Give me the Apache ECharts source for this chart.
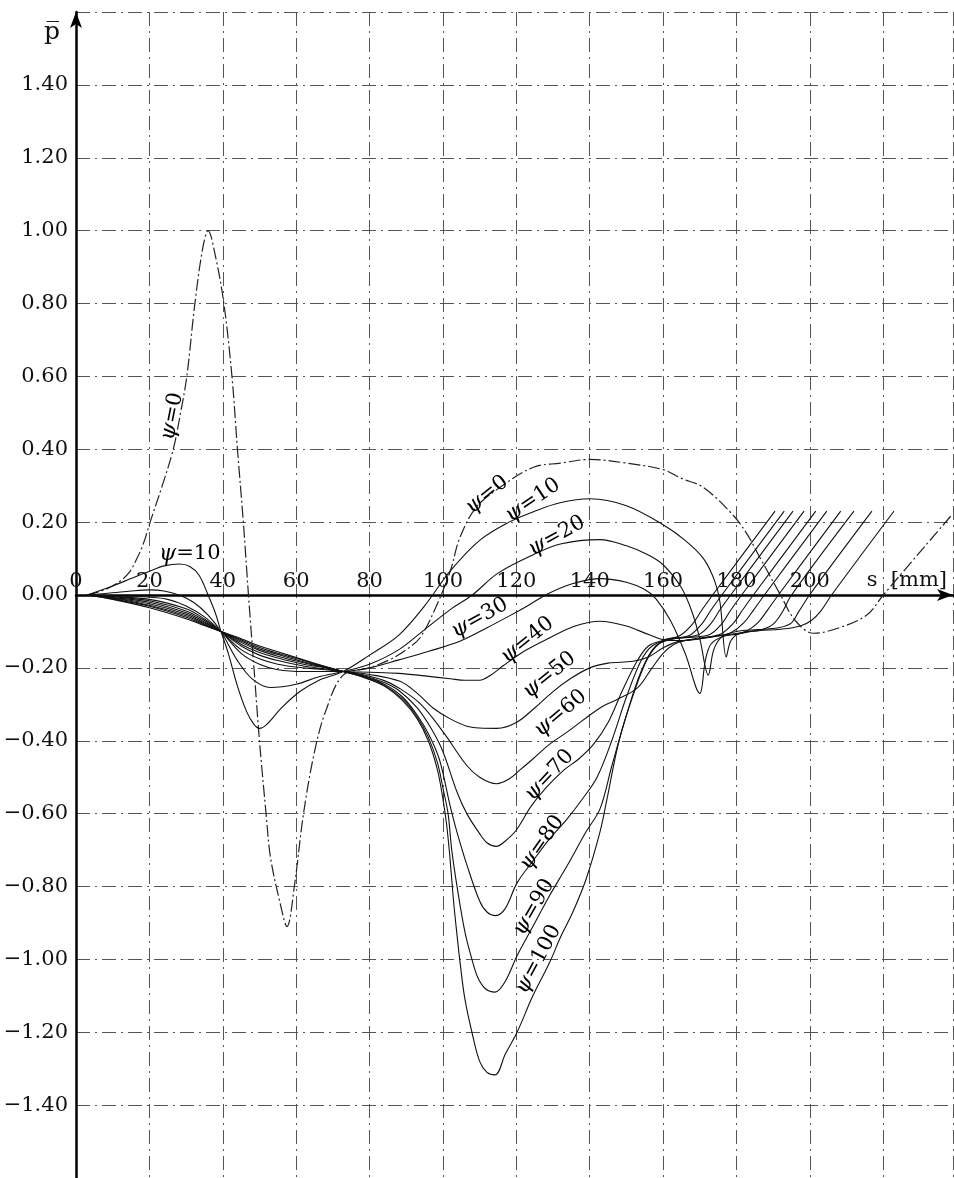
<!DOCTYPE html>
<html>
<head>
<meta charset="utf-8">
<script src="https://cdn.jsdelivr.net/npm/echarts@6/dist/echarts.min.js"></script>
<style>
html,body{margin:0;padding:0;background:#fff;}
#chart{width:954px;height:1178px;}
</style>
</head>
<body>
<div id="chart"></div>
<script>
// ---- data: s [mm], p-bar ----
var psi0 = [[3,0],[8,0.015],[12,0.038],[14.5,0.062],[16.6,0.1],[18.5,0.145],[20.2,0.2],[23.5,0.3],[26.5,0.4],[28.5,0.5],[30.2,0.6],[32.4,0.8],[34.5,0.95],[36,1.0],[38,0.93],[40.3,0.8],[42.5,0.6],[44,0.4],[45.6,0.2],[47,0.0],[48.5,-0.2],[50,-0.4],[51.8,-0.6],[53,-0.72],[55.5,-0.84],[57.5,-0.91],[59.5,-0.8],[62,-0.6],[65,-0.43],[68,-0.32],[72.8,-0.22],[80,-0.2],[86,-0.175],[90,-0.15],[93.7,-0.118],[98,-0.035],[102,0.066],[104.6,0.157],[109,0.24],[115.5,0.295],[124.5,0.35],[132,0.362],[140,0.372],[150,0.362],[160,0.344],[165,0.32],[171,0.295],[179,0.22],[183,0.165],[186,0.11],[192,0.0],[196,-0.07],[201,-0.105],[208,-0.09],[215.5,-0.055],[220,0],[238.7,0.22]];
var psi10 = [[3,0],[10,0.025],[15,0.045],[20,0.065],[24,0.08],[28.3,0.085],[31,0.078],[33.5,0.055],[36,0.0],[38,-0.05],[39.5,-0.1],[41.5,-0.16],[44,-0.25],[46.5,-0.32],[48.5,-0.355],[50,-0.366],[52,-0.355],[56,-0.31],[61,-0.265],[66,-0.235],[72.8,-0.21],[80,-0.165],[88,-0.11],[95,-0.03],[102,0.066],[110,0.15],[118,0.2],[124.5,0.228],[131.9,0.253],[140,0.264],[150,0.245],[160,0.193],[166,0.15],[171,0.1],[174,0.04],[175.5,-0.02],[177.2,-0.17],[178.5,-0.125],[181,-0.105],[186,-0.098],[192,-0.094],[197.4,-0.085],[200.4,-0.07],[202.9,-0.045],[205.9,0],[222.9,0.23]];
var psi20 = [[3,0],[10,0.006],[15,0.011],[20,0.014],[24,0.011],[28,0.0],[32,-0.02],[36,-0.055],[39.5,-0.1],[44,-0.18],[48,-0.23],[53,-0.254],[60,-0.245],[66,-0.225],[72.8,-0.21],[80,-0.19],[88,-0.15],[95,-0.095],[102,-0.04],[108,0],[115,0.06],[124.5,0.11],[132,0.14],[142.8,0.152],[150,0.135],[156,0.11],[160,0.083],[165,0.02],[168,-0.05],[170,-0.12],[172.3,-0.22],[173.8,-0.15],[176,-0.115],[180,-0.1],[186,-0.095],[191.4,-0.09],[194.9,-0.077],[197,-0.045],[199.9,0],[216.9,0.23]];
var psi30 = [[3,0],[10,-0.002],[20,-0.006],[25,-0.012],[30,-0.03],[35,-0.06],[39.5,-0.1],[45,-0.16],[50,-0.19],[55,-0.205],[62,-0.21],[68,-0.21],[72.8,-0.21],[80,-0.2],[88,-0.178],[96,-0.155],[104.6,-0.127],[112,-0.09],[118,-0.058],[123,-0.03],[128,0],[135,0.03],[143,0.045],[150,0.035],[155,0.015],[158,-0.01],[162,-0.07],[166,-0.16],[170,-0.27],[171.5,-0.18],[173,-0.135],[176,-0.115],[180,-0.108],[184,-0.1],[187,-0.095],[190,-0.08],[192.3,-0.05],[195,0],[212,0.23]];
var psi40 = [[3,0],[10,-0.004],[20,-0.012],[30,-0.038],[35,-0.066],[39.5,-0.1],[45,-0.15],[50,-0.175],[55,-0.19],[62,-0.2],[68,-0.205],[72.8,-0.21],[80,-0.212],[88,-0.215],[95,-0.222],[102,-0.23],[106,-0.234],[110,-0.234],[113,-0.22],[116.3,-0.195],[122,-0.155],[129,-0.118],[136,-0.085],[142.8,-0.072],[150,-0.085],[156.4,-0.11],[161,-0.124],[166,-0.125],[172,-0.117],[178,-0.108],[182.4,-0.1],[185.9,-0.075],[188.4,-0.042],[191.4,0],[208.4,0.23]];
var psi50 = [[3,0],[10,-0.005],[20,-0.016],[30,-0.044],[35,-0.07],[39.5,-0.1],[45,-0.14],[50,-0.165],[55,-0.18],[62,-0.195],[68,-0.203],[72.8,-0.21],[80,-0.218],[88.3,-0.237],[93,-0.27],[97.3,-0.31],[102,-0.34],[106.5,-0.36],[110,-0.365],[114.7,-0.366],[120,-0.35],[125,-0.31],[130,-0.265],[135,-0.228],[140,-0.2],[145,-0.187],[151.8,-0.182],[156,-0.17],[160,-0.145],[164,-0.128],[170,-0.12],[176,-0.11],[178.6,-0.103],[182.1,-0.075],[184.6,-0.042],[187.6,0],[204.6,0.23]];
var psi60 = [[3,0],[10,-0.007],[20,-0.02],[30,-0.049],[35,-0.074],[39.5,-0.1],[45,-0.135],[50,-0.158],[55,-0.173],[62,-0.19],[68,-0.2],[72.8,-0.21],[78,-0.218],[84,-0.235],[88,-0.255],[94,-0.3],[100,-0.375],[106.5,-0.468],[110,-0.5],[114.6,-0.518],[118,-0.505],[121,-0.48],[124.5,-0.45],[129,-0.41],[134,-0.375],[142.8,-0.31],[148,-0.284],[153,-0.255],[157,-0.2],[160,-0.16],[163,-0.135],[166,-0.125],[170,-0.118],[175.6,-0.108],[179.1,-0.078],[181.6,-0.042],[184.6,0],[201.6,0.23]];
var psi70 = [[3,0],[10,-0.008],[20,-0.024],[30,-0.053],[35,-0.077],[39.5,-0.1],[45,-0.13],[50,-0.152],[55,-0.168],[62,-0.186],[68,-0.199],[72.8,-0.21],[78,-0.22],[84,-0.24],[88,-0.262],[93,-0.31],[97,-0.37],[100,-0.43],[103.8,-0.54],[106.5,-0.6],[110,-0.655],[112,-0.68],[114.5,-0.69],[117,-0.675],[120,-0.645],[124,-0.58],[128,-0.53],[133,-0.48],[137,-0.45],[141,-0.41],[145,-0.35],[149,-0.26],[153,-0.18],[156,-0.14],[160,-0.125],[166,-0.117],[172.4,-0.11],[175.9,-0.08],[178.4,-0.042],[181.4,0],[198.4,0.23]];
var psi80 = [[3,0],[10,-0.009],[20,-0.028],[30,-0.057],[35,-0.08],[39.5,-0.1],[45,-0.126],[50,-0.148],[55,-0.163],[62,-0.183],[68,-0.198],[72.8,-0.21],[78,-0.222],[84,-0.245],[89,-0.28],[93,-0.33],[96,-0.38],[99,-0.45],[102,-0.58],[103.8,-0.65],[106.5,-0.74],[110,-0.84],[112,-0.87],[114.4,-0.88],[117,-0.86],[120.2,-0.79],[124.5,-0.73],[129,-0.67],[133.8,-0.615],[138,-0.56],[142,-0.5],[146,-0.4],[150,-0.28],[154,-0.18],[157,-0.14],[162,-0.12],[169.4,-0.11],[172.9,-0.08],[175.4,-0.042],[178.4,0],[195.4,0.23]];
var psi90 = [[3,0],[10,-0.011],[20,-0.031],[30,-0.061],[35,-0.082],[39.5,-0.1],[45,-0.123],[50,-0.144],[55,-0.16],[62,-0.18],[68,-0.197],[72.8,-0.21],[78,-0.224],[84,-0.248],[89,-0.285],[93,-0.335],[96,-0.39],[98.5,-0.46],[100,-0.53],[101.4,-0.6],[102.4,-0.7],[104,-0.81],[106,-0.925],[107.9,-1.0],[109.5,-1.05],[111.5,-1.08],[114.2,-1.09],[117,-1.06],[120.2,-0.99],[124.5,-0.91],[129,-0.826],[133.8,-0.744],[139,-0.65],[142.8,-0.587],[146,-0.47],[150,-0.33],[154,-0.21],[158,-0.14],[163,-0.12],[167,-0.112],[170.5,-0.08],[173,-0.042],[176,0],[193,0.23]];
var psi100 = [[3,0],[10,-0.012],[20,-0.035],[30,-0.065],[35,-0.084],[39.5,-0.1],[45,-0.12],[50,-0.14],[55,-0.156],[62,-0.178],[68,-0.196],[72.8,-0.21],[78,-0.225],[84,-0.25],[89,-0.29],[93,-0.34],[96,-0.4],[98.5,-0.48],[100,-0.56],[101,-0.63],[101.9,-0.72],[102.8,-0.83],[103.8,-0.93],[104.8,-1.02],[106,-1.11],[107.9,-1.2],[110,-1.28],[112,-1.31],[114.2,-1.317],[117,-1.26],[120.2,-1.2],[124.5,-1.1],[129,-1.01],[132,-0.94],[135.4,-0.87],[139,-0.78],[142.8,-0.65],[144.7,-0.56],[148,-0.4],[152,-0.27],[156,-0.17],[160,-0.125],[164.5,-0.112],[168,-0.08],[170.5,-0.042],[173.5,0],[190.5,0.23]];

var curveNames = ['ψ=0','ψ=10','ψ=20','ψ=30','ψ=40','ψ=50','ψ=60','ψ=70','ψ=80','ψ=90','ψ=100'];
var curves = [psi0, psi10, psi20, psi30, psi40, psi50, psi60, psi70, psi80, psi90, psi100];

// s-axis tick labels (drawn just above the s axis)
var xTickValues = [0, 20, 40, 60, 80, 100, 120, 140, 160, 180, 200];

// curve annotations (anchor in data units, text angle in degrees)
var labelText  = ['0','10','0','10','20','30','40','50','60','70','80','90','100'];
var labelS     = [26.2, 31, 112, 124.5, 131, 110, 123, 129, 132, 129, 127, 124.8, 126];
var labelP     = [0.49, 0.113, 0.275, 0.26, 0.162, -0.063, -0.124, -0.22, -0.325, -0.495, -0.68, -0.857, -1.0];
var labelAngle = [79, 0, 39, 34, 29, 29, 39, 39, 40, 47, 55, 60, 62];

var FONT = 'DejaVu Serif';

var series = curves.map(function (d, i) {
  return {
    name: curveNames[i],
    type: 'line',
    data: d,
    smooth: 0.35,
    showSymbol: false,
    silent: true,
    lineStyle: i === 0
      ? {color: '#222', width: 1.2, type: [12, 3, 2, 3]}
      : {color: '#111', width: 1.1}
  };
});

series.push({
  type: 'scatter',
  symbolSize: 0,
  silent: true,
  itemStyle: {opacity: 1},
  data: labelText.map(function (t, i) {
    return {
      value: [labelS[i], labelP[i]],
      name: t,
      label: {rotate: labelAngle[i]}
    };
  }),
  label: {
    show: true,
    position: 'inside',
    opacity: 1,
    formatter: function (p) { return '{g|ψ}=' + p.name; },
    fontFamily: FONT,
    fontSize: 21,
    color: '#000',
    rich: {g: {fontFamily: FONT, fontSize: 22, fontStyle: 'italic', color: '#000'}}
  },
  z: 5
});

series.push({
  type: 'scatter',
  symbolSize: 0,
  silent: true,
  itemStyle: {opacity: 1},
  data: xTickValues.map(function (v) { return {value: [v, 0], name: String(v)}; }),
  label: {
    show: true,
    position: 'top',
    distance: 3,
    opacity: 1,
    formatter: function (p) { return p.name; },
    fontFamily: FONT,
    fontSize: 21,
    color: '#111'
  },
  z: 5
});

var chart = echarts.init(document.getElementById('chart'), null, {renderer: 'canvas'});
chart.setOption({
  backgroundColor: '#fff',
  animation: false,
  grid: {left: 76, top: 12, width: 877, height: 1166},
  xAxis: {
    type: 'value', min: 0, max: 239, interval: 20,
    axisLine: {onZero: true, lineStyle: {color: '#000', width: 2.5}, symbol: ['none', 'arrow'], symbolSize: [9, 16]},
    axisTick: {show: false},
    axisLabel: {show: false},
    splitLine: {show: true, lineStyle: {color: '#555', width: 1, type: [14, 5, 2, 5]}},
    name: 's  [mm]', nameLocation: 'end', nameGap: -6,
    nameTextStyle: {fontFamily: FONT, fontSize: 21, color: '#111', align: 'right', verticalAlign: 'bottom', padding: [0, 0, 4, 0]}
  },
  yAxis: {
    type: 'value', min: -1.6, max: 1.6, interval: 0.2,
    axisLine: {onZero: false, lineStyle: {color: '#000', width: 2.5}, symbol: ['none', 'arrow'], symbolSize: [9, 16]},
    axisTick: {show: false},
    axisLabel: {
      margin: 8, fontFamily: FONT, fontSize: 21, color: '#111',
      formatter: function (v) {
        if (Math.abs(v) > 1.5) return '';
        var s = Math.abs(v).toFixed(2);
        return (v < -0.001 ? '−' : '') + s;
      }
    },
    splitLine: {show: true, lineStyle: {color: '#555', width: 1, type: [14, 5, 2, 5]}},
    name: 'p\u0305', nameLocation: 'end', nameGap: -20,
    nameTextStyle: {fontFamily: FONT, fontSize: 25, color: '#111', align: 'right', verticalAlign: 'middle', padding: [0, 16, 0, 0]}
  },
  series: series
});
</script>
</body>
</html>
